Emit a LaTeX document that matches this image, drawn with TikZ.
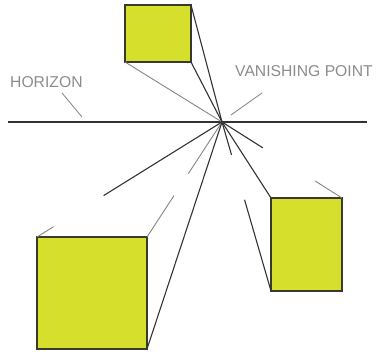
\documentclass[tikz,border=0pt]{standalone}
\usepackage{fontspec}
\setmainfont{Liberation Sans}
\usetikzlibrary{calc}
\definecolor{sqfill}{HTML}{D6E02C}
\definecolor{sqedge}{HTML}{3A3A2C}
\definecolor{lbl}{HTML}{8C8C8C}
\definecolor{ray}{HTML}{333333}
\begin{document}
\begin{tikzpicture}[x=1pt,y=-1pt,
  sq/.style={draw=sqedge,fill=sqfill,line width=2pt,inner sep=0pt,outer sep=0pt},
  rayline/.style={draw=ray,line width=1.1pt},
  lightray/.style={draw=ray!60,line width=0.9pt},
  leader/.style={draw=lbl,line width=0.9pt},
  lab/.style={text=lbl,font=\fontsize{15.7}{15.7}\selectfont,inner sep=0pt,anchor=west}]
\useasboundingbox (0,0) rectangle (383,352);
\coordinate (vp) at (222,122);
\coordinate (hl) at (8,122);
\coordinate (hr) at (367,122);
\draw[rayline] (hl) -- (hr);
\node[sq,minimum width=66pt,minimum height=57pt] (top) at (158,33.5) {};
\node[sq,minimum width=110pt,minimum height=112pt] (big) at (92,293) {};
\node[sq,minimum width=71pt,minimum height=93pt] (rt) at (306.5,244.5) {};
% top square rays
\draw[rayline] (top.north east) -- (vp);
\draw[rayline] (top.south east) -- (vp);
\draw[lightray] (top.south west) -- (vp);
% big square rays
\draw[lightray] (big.north west) -- ($(big.north west)!0.09!(vp)$);
\draw[rayline] ($(big.north west)!0.36!(vp)$) -- (vp);
\draw[lightray] (big.north east) -- ($(big.north east)!0.36!(vp)$);
\draw[lightray] ($(big.north east)!0.55!(vp)$) -- (vp);
\draw[rayline] (big.south east) -- (vp);
% right square rays
\draw[rayline] (rt.north west) -- (vp);
\draw[rayline] (vp) -- ($(vp)!0.195!(rt.south west)$);
\draw[rayline] ($(vp)!0.46!(rt.south west)$) -- (rt.south west);
\draw[rayline] (vp) -- ($(vp)!0.34!(rt.north east)$);
\draw[lightray] ($(vp)!0.775!(rt.north east)$) -- (rt.north east);
\fill[ray] (vp) circle (1.5pt);
% labels
\node[lab] (hor) at (10,82) {HORIZON};
\node[lab] (van) at (235,71) {VANISHING POINT};
\coordinate (h1) at (62,93);
\coordinate (h2) at (82,117);
\coordinate (v1) at (262,93);
\coordinate (v2) at (231,115);
\draw[leader] (h1) -- (h2);
\draw[leader] (v1) -- (v2);
\end{tikzpicture}
\end{document}
